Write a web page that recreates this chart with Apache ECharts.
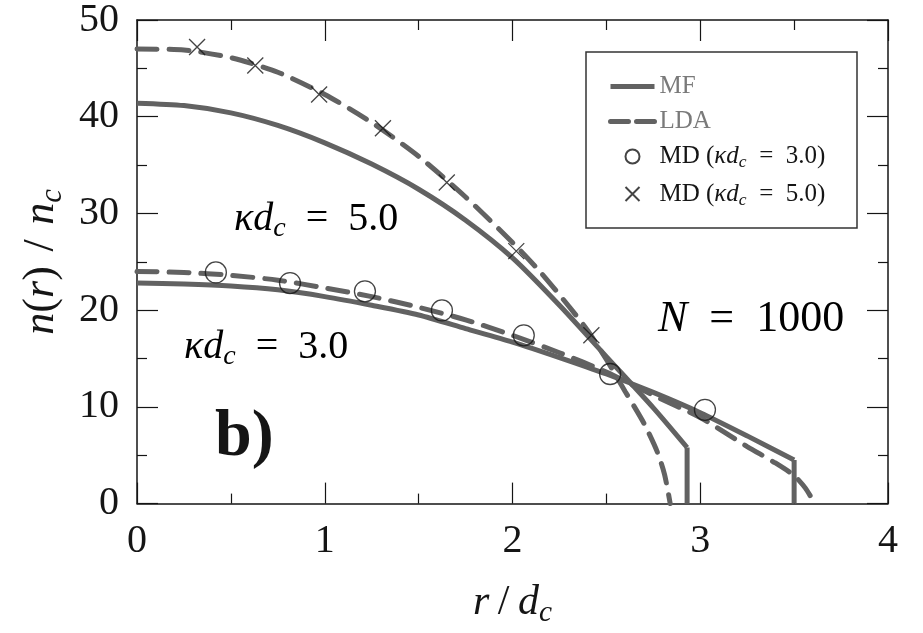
<!DOCTYPE html>
<html>
<head>
<meta charset="utf-8">
<script src="https://cdn.jsdelivr.net/npm/echarts@6/dist/echarts.min.js"></script>
<style>
  html, body { margin: 0; padding: 0; background: #fff; }
  #chart { width: 923px; height: 633px; }
</style>
</head>
<body>
<div id="chart"></div>
<script>
// values: r/d_c and n(r)/n_c
const rMF5 = [0, 0.25, 0.5, 0.75, 1.0, 1.25, 1.5, 1.75, 2.0, 2.25, 2.5, 2.75, 2.93];
const nMF5 = [41.4, 41.15, 40.4, 39.1, 37.3, 35.1, 32.5, 29.3, 25.4, 20.5, 15.2, 9.9, 5.8];
const rMF5Edge = 2.93;

const rLDA5 = [0, 0.25, 0.5, 0.75, 1.0, 1.25, 1.5, 1.75, 2.0, 2.15, 2.3, 2.4, 2.5, 2.6, 2.7, 2.77, 2.81, 2.84];
const nLDA5 = [47.0, 46.9, 46.1, 44.6, 42.3, 39.4, 35.9, 31.7, 27.0, 23.9, 20.4, 17.9, 14.9, 11.6, 8.3, 5.4, 3.0, 0];

const rMF3 = [0, 0.25, 0.5, 0.75, 1.0, 1.25, 1.5, 1.75, 2.0, 2.25, 2.5, 2.75, 3.0, 3.25, 3.5];
const nMF3 = [22.8, 22.7, 22.5, 22.1, 21.4, 20.5, 19.5, 18.1, 16.7, 15.1, 13.4, 11.5, 9.4, 7.0, 4.5];
const rMF3Edge = 3.5;

const rLDA3 = [0, 0.25, 0.5, 0.75, 1.0, 1.25, 1.5, 1.75, 2.0, 2.25, 2.5, 2.75, 3.0, 3.25, 3.4, 3.5, 3.56, 3.61];
const nLDA3 = [24.0, 23.9, 23.6, 23.1, 22.3, 21.4, 20.3, 19.0, 17.4, 15.6, 13.6, 11.2, 8.9, 5.9, 4.2, 2.9, 1.6, 0];

const rMD3 = [0.42, 0.815, 1.214, 1.624, 2.06, 2.52, 3.025];
const nMD3 = [23.9, 22.8, 21.95, 19.97, 17.4, 13.4, 9.7];

const rMD5 = [0.32, 0.63, 0.97, 1.31, 1.65, 2.02, 2.42];
const nMD5 = [47.2, 45.3, 42.3, 38.8, 33.2, 26.1, 17.4];

const xTicks = [0, 1, 2, 3, 4];
const yTicks = [0, 10, 20, 30, 40, 50];

const FONT = "'Liberation Serif', 'DejaVu Serif', serif";
const CURVE = '#626262';
const INK = '#151515';
const SP = '\u2009';

function pairs(xs, ys) {
  return xs.map((x, i) => [x, ys[i]]);
}

// main text with a subscript token
function mathRich(size, color) {
  return {
    t: { fontFamily: FONT, fontSize: size, color: color, lineHeight: size * 1.2 },
    i: { fontFamily: FONT, fontSize: size, fontStyle: 'italic', color: color, lineHeight: size * 1.2 },
    s: { fontFamily: FONT, fontSize: size * 0.7, fontStyle: 'italic', color: color,
         lineHeight: size * 0.6, verticalAlign: 'bottom' }
  };
}

const EQ = '\u2002=\u2002';
const legendLabels = {
  MF: '{t|MF}',
  LDA: '{t|LDA}',
  MD3: '{t|MD (}{i|κd}{s|c}{t|' + EQ + '3.0)}',
  MD5: '{t|MD (}{i|κd}{s|c}{t|' + EQ + '5.0)}'
};

function axisBase(pos, show) {
  return {
    type: 'value',
    position: pos,
    axisLine: { show: true, onZero: false, lineStyle: { color: INK, width: 1.5 } },
    axisTick: { show: true, inside: true, length: 21, lineStyle: { color: INK, width: 1.2 } },
    minorTick: { show: true, splitNumber: 2, length: 10, lineStyle: { color: INK, width: 1.2 } },
    splitLine: { show: false },
    axisLabel: { show: show, fontFamily: FONT, fontSize: 40, color: INK, margin: 18 }
  };
}

const xMain = Object.assign(axisBase('bottom', true), {
  min: xTicks[0], max: xTicks[xTicks.length - 1], interval: 1,
  name: '{i|r}{t|' + SP + '/' + SP + '}{i|d}{s|c}', nameLocation: 'middle', nameGap: 74,
  nameTextStyle: { rich: mathRich(42, INK) }
});
const xTop = Object.assign(axisBase('top', false), { min: 0, max: 4, interval: 1 });

const yMain = Object.assign(axisBase('left', true), {
  min: yTicks[0], max: yTicks[yTicks.length - 1], interval: 10,
  name: '{i|n}{t|(}{i|r}{t|)\u2004/\u2004}{i|n}{s|c}', nameLocation: 'middle', nameGap: 68, nameRotate: 90,
  nameTextStyle: { rich: mathRich(44, INK) }
});
const yRight = Object.assign(axisBase('right', false), { min: 0, max: 50, interval: 10 });

function curve(name, data, dashed) {
  return {
    name: name,
    type: 'line',
    data: data,
    showSymbol: false,
    symbol: 'none',
    smooth: dashed === null ? false : 0.25,
    itemStyle: { color: CURVE },
    lineStyle: { color: CURVE, width: 5, type: dashed ? [20, 12] : 'solid', cap: dashed ? 'round' : 'butt' },
    z: 2,
    silent: true
  };
}

// MF profiles end with a vertical drop at the cloud edge
function mfCurves(r, n, edge) {
  let last = n[n.length - 1];
  return [
    curve('MF', pairs(r, n), false),
    curve('MF', [[edge, last], [edge, 0]], null)
  ];
}

function markers(name, r, n, symbol, size) {
  return {
    name: name,
    type: 'scatter',
    data: pairs(r, n),
    symbol: symbol,
    symbolSize: size,
    itemStyle: { color: 'none', borderColor: INK, borderWidth: 1.3 },
    z: 3,
    silent: true
  };
}

function label(text, x, y, size) {
  return {
    type: 'text',
    left: x,
    top: y,
    style: { text: text, rich: mathRich(size, INK) }
  };
}

const hidden = { color: 'rgba(0,0,0,0)', borderWidth: 0, opacity: 0 };

const option = {
  animation: false,
  backgroundColor: '#fff',
  grid: { left: 137, right: 35, top: 20, bottom: 119 },
  xAxis: [xMain, xTop],
  yAxis: [yMain, yRight],
  legend: {
    orient: 'vertical',
    left: 608,
    top: 74,
    padding: 0,
    itemWidth: 44,
    itemHeight: 14,
    itemGap: 10,
    selectedMode: false,
    data: [
      { name: 'MF', itemStyle: hidden,
        lineStyle: { color: CURVE, width: 5, type: 'solid' },
        textStyle: { rich: mathRich(25, '#7a7a7a') } },
      { name: 'LDA', itemStyle: hidden,
        lineStyle: { color: CURVE, width: 5, type: [18, 8] },
        textStyle: { rich: mathRich(25, '#7a7a7a') } },
      { name: 'MD3', textStyle: { rich: mathRich(25, INK) } },
      { name: 'MD5', textStyle: { rich: mathRich(25, INK) } }
    ],
    formatter: name => legendLabels[name]
  },
  graphic: [
    { type: 'rect', shape: { x: 586, y: 52, width: 271, height: 176 },
      style: { fill: 'none', stroke: '#333', lineWidth: 1.5 }, z: 1 },
    label('{i|κd}{s|c}{t|' + EQ + '5.0}', 234, 199, 40),
    label('{i|κd}{s|c}{t|' + EQ + '3.0}', 184, 327, 40),
    label('{i|N}{t|' + EQ + '1000}', 658, 297, 44),
    { type: 'text', left: 215, top: 405,
      style: { text: 'b)', fontFamily: FONT, fontSize: 66, fontWeight: 'bold', fill: INK } }
  ],
  series: [
    ...mfCurves(rMF5, nMF5, rMF5Edge),
    ...mfCurves(rMF3, nMF3, rMF3Edge),
    curve('LDA', pairs(rLDA5, nLDA5), true),
    curve('LDA', pairs(rLDA3, nLDA3), true),
    markers('MD3', rMD3, nMD3, 'circle', 21),
    markers('MD5', rMD5, nMD5, 'path://M0,0L10,10M10,0L0,10', 16)
  ]
};

const chart = echarts.init(document.getElementById('chart'));
chart.setOption(option);
</script>
</body>
</html>
